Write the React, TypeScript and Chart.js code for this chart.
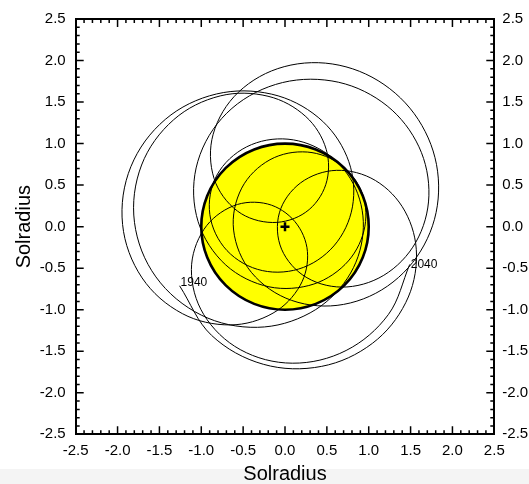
import React, { useEffect, useRef } from "react";
import { Chart, registerables } from "chart.js";

Chart.register(...registerables);

// Path of the curve, one point per year, 1940 .. 2040 (units: solar radii)
const pathX = [
  -1.259, -0.878, -0.259, 0.438, 1.045, 1.442, 1.571, 1.432, 1.079, 0.615,
  0.186, -0.067, -0.041, 0.262, 0.74, 1.236, 1.596, 1.719, 1.566, 1.157,
  0.561, -0.112, -0.697, -1.041, -1.058, -0.76, -0.258, 0.284, 0.717, 0.943,
  0.927, 0.675, 0.268, -0.179, -0.517, -0.614, -0.402, 0.08, 0.7, 1.29,
  1.7, 1.835, 1.675, 1.251, 0.646, -0.01, -0.558, -0.858, -0.847, -0.567,
  -0.149, 0.248, 0.487, 0.492, 0.249, -0.203, -0.774, -1.329, -1.713, -1.798,
  -1.542, -1.0, -0.329, 0.3, 0.746, 0.932, 0.843, 0.514, 0.036, -0.458,
  -0.813, -0.898, -0.693, -0.271, 0.222, 0.624, 0.815, 0.738, 0.396, -0.159,
  -0.82, -1.43, -1.841, -1.94, -1.707, -1.226, -0.652, -0.143, 0.182, 0.268,
  0.118, -0.208, -0.617, -0.969, -1.118, -0.972, -0.535, 0.087, 0.73, 1.234,
  1.49,
];
const pathY = [
  -0.712, -1.308, -1.657, -1.682, -1.404, -0.915, -0.342, 0.187, 0.556, 0.678,
  0.527, 0.167, -0.271, -0.615, -0.726, -0.549, -0.124, 0.445, 1.03, 1.502,
  1.754, 1.712, 1.365, 0.787, 0.135, -0.41, -0.708, -0.709, -0.456, -0.049,
  0.391, 0.738, 0.898, 0.806, 0.464, -0.041, -0.55, -0.888, -0.936, -0.667,
  -0.145, 0.5, 1.144, 1.661, 1.944, 1.926, 1.617, 1.113, 0.579, 0.187,
  0.05, 0.174, 0.506, 0.931, 1.325, 1.57, 1.574, 1.288, 0.742, 0.052,
  -0.605, -1.065, -1.212, -1.038, -0.62, -0.077, 0.46, 0.869, 1.053, 0.961,
  0.621, 0.148, -0.288, -0.529, -0.49, -0.182, 0.304, 0.847, 1.316, 1.595,
  1.597, 1.291, 0.722, 0.026, -0.617, -1.047, -1.183, -1.041, -0.706, -0.299,
  0.061, 0.273, 0.25, -0.034, -0.516, -1.056, -1.48, -1.644, -1.491, -1.059,
  -0.455,
];
const yearLabels = ["1940", "2040"];
const axisMin = -2.5;
const axisMax = 2.5;
const majorStep = 0.5;
const minorStep = 0.1;
const sunRadius = 1;
const sunCenter = { x: 0, y: 0 };
const axisTitle = "Solradius";

const FONT = '"Liberation Sans", Arial, Helvetica, sans-serif';

const sunPlugin = {
  id: "sun",
  beforeDatasetsDraw(chart: any) {
    const { ctx } = chart;
    const xs = chart.scales.x;
    const ys = chart.scales.y;
    const cx = xs.getPixelForValue(sunCenter.x);
    const cy = ys.getPixelForValue(sunCenter.y);
    const rx = xs.getPixelForValue(sunCenter.x + sunRadius) - cx;
    const ry = cy - ys.getPixelForValue(sunCenter.y + sunRadius);
    ctx.save();
    ctx.beginPath();
    ctx.ellipse(cx, cy, rx, ry, 0, 0, Math.PI * 2);
    ctx.fillStyle = "#ffff00";
    ctx.fill();
    ctx.lineWidth = 2.6;
    ctx.strokeStyle = "#000";
    ctx.stroke();
    ctx.restore();
  },
};

const tickPlugin = {
  id: "inwardTicks",
  afterDraw(chart: any) {
    const { ctx, chartArea } = chart;
    const xs = chart.scales.x;
    const ys = chart.scales.y;
    const n = Math.round((axisMax - axisMin) / minorStep);
    const perMajor = Math.round(majorStep / minorStep);
    ctx.save();
    ctx.strokeStyle = "#000";
    ctx.lineWidth = 1.5;
    ctx.beginPath();
    for (let i = 1; i < n; i++) {
      const v = axisMin + i * minorStep;
      const len = i % perMajor === 0 ? 8 : 4;
      const px = xs.getPixelForValue(v);
      const py = ys.getPixelForValue(v);
      ctx.moveTo(px, chartArea.bottom);
      ctx.lineTo(px, chartArea.bottom - len);
      ctx.moveTo(px, chartArea.top);
      ctx.lineTo(px, chartArea.top + len);
      ctx.moveTo(chartArea.left, py);
      ctx.lineTo(chartArea.left + len, py);
      ctx.moveTo(chartArea.right, py);
      ctx.lineTo(chartArea.right - len, py);
    }
    ctx.stroke();
    ctx.restore();
  },
};

const yearLabelPlugin = {
  id: "yearLabels",
  afterDatasetsDraw(chart: any) {
    const { ctx } = chart;
    const xs = chart.scales.x;
    const ys = chart.scales.y;
    const last = pathX.length - 1;
    ctx.save();
    ctx.fillStyle = "#000";
    ctx.font = "12px " + FONT;
    ctx.textAlign = "left";
    ctx.textBaseline = "alphabetic";
    ctx.fillText(
      yearLabels[0],
      xs.getPixelForValue(pathX[0]) + 1,
      ys.getPixelForValue(pathY[0]) + 0
    );
    ctx.textBaseline = "middle";
    ctx.fillText(
      yearLabels[1],
      xs.getPixelForValue(pathX[last]) + 1,
      ys.getPixelForValue(pathY[last]) + 0
    );
    ctx.restore();
  },
};

const fmt = (v: any) => Number(v).toFixed(1);

export default function App() {
  const canvasRef = useRef<HTMLCanvasElement | null>(null);

  useEffect(() => {
    if (!canvasRef.current) return;
    const points = pathX.map((x, i) => ({ x, y: pathY[i] }));
    const tickFont = { family: FONT, size: 15 };
    const titleFont = { family: FONT, size: 20, lineHeight: 1 };
    const border = { display: true, color: "#000", width: 2 };
    const chart = new Chart(canvasRef.current, {
      type: "scatter",
      data: {
        datasets: [
          {
            data: points,
            showLine: true,
            borderColor: "#000",
            borderWidth: 1,
            pointRadius: 0,
            tension: 0.35,
            fill: false,
          } as any,
          {
            data: [{ x: sunCenter.x, y: sunCenter.y }],
            showLine: false,
            pointStyle: "cross",
            pointRadius: 4.5,
            borderWidth: 2.5,
            borderColor: "#000",
            backgroundColor: "#000",
          } as any,
        ],
      },
      options: {
        animation: false,
        responsive: false,
        events: [],
        layout: { padding: 0 },
        plugins: {
          legend: { display: false },
          tooltip: { enabled: false },
        },
        scales: {
          x: {
            type: "linear",
            position: "bottom",
            min: axisMin,
            max: axisMax,
            grid: { display: false, drawTicks: false },
            border,
            ticks: {
              stepSize: majorStep,
              autoSkip: false,
              maxRotation: 0,
              padding: 8,
              color: "#000",
              font: tickFont,
              callback: fmt,
            },
            title: {
              display: true,
              text: axisTitle,
              color: "#000",
              font: titleFont,
              padding: 0,
            },
            afterFit: (s: any) => {
              s.height = 49.7;
            },
          },
          x2: {
            type: "linear",
            position: "top",
            min: axisMin,
            max: axisMax,
            grid: { display: false, drawTicks: false },
            border,
            ticks: { display: false },
            afterFit: (s: any) => {
              s.height = 15.8;
            },
          },
          y: {
            type: "linear",
            position: "left",
            min: axisMin,
            max: axisMax,
            grid: { display: false, drawTicks: false },
            border,
            ticks: {
              stepSize: majorStep,
              autoSkip: false,
              padding: 10,
              color: "#000",
              font: tickFont,
              callback: fmt,
            },
            title: {
              display: true,
              text: axisTitle,
              color: "#000",
              font: titleFont,
              padding: { top: 14, bottom: 0 },
            },
            afterFit: (s: any) => {
              s.width = 75.7;
            },
          },
          y2: {
            type: "linear",
            position: "right",
            min: axisMin,
            max: axisMax,
            grid: { display: false, drawTicks: false },
            border,
            ticks: {
              stepSize: majorStep,
              autoSkip: false,
              padding: 8,
              color: "#000",
              font: tickFont,
              callback: fmt,
            },
            afterFit: (s: any) => {
              s.width = 34.7;
            },
          },
        },
      } as any,
      plugins: [sunPlugin, tickPlugin, yearLabelPlugin],
    });
    return () => chart.destroy();
  }, []);

  return (
    <div
      style={{
        position: "fixed",
        left: 0,
        top: 0,
        width: 529,
        height: 484,
        background:
          "linear-gradient(to bottom, #ffffff 0px, #ffffff 469px, #f4f4f4 469px, #f4f4f4 484px)",
      }}
    >
      <canvas ref={canvasRef} width={529} height={484} style={{ display: "block" }} />
    </div>
  );
}
